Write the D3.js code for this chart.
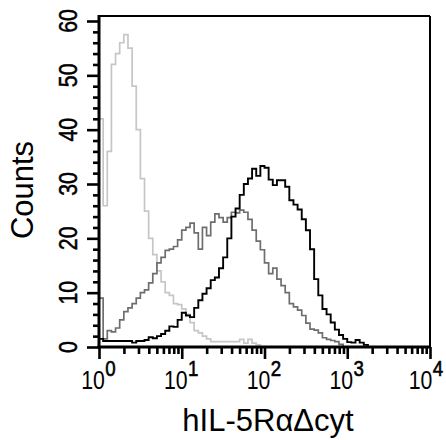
<!DOCTYPE html>
<html>
<head>
<meta charset="utf-8">
<script src="https://cdn.jsdelivr.net/npm/d3@7"></script>
<style>
  html, body { margin: 0; padding: 0; background: #ffffff; }
  svg { display: block; }
  text { font-family: "Liberation Sans", Arial, Helvetica, sans-serif; fill: #000; }
</style>
</head>
<body>
<script>
// ---- Data (histogram bins: log10 of left edge of each channel bin) ----
const binLog = [0,0.05,0.1,0.15,0.2,0.25,0.3,0.35,0.4,0.45,0.5,0.55,0.6,0.65,0.7,0.75,0.8,0.85,0.9,0.95,
  1,1.05,1.1,1.15,1.2,1.25,1.3,1.35,1.4,1.45,1.5,1.55,1.6,1.65,1.7,1.75,1.8,1.85,1.9,1.95,
  2,2.05,2.1,2.15,2.2,2.25,2.3,2.35,2.4,2.45,2.5,2.55,2.6,2.65,2.7,2.75,2.8,2.85,2.9,2.95,
  3,3.05,3.1,3.15,3.2,3.25,3.3,3.35,3.4,3.45,3.5,3.55,3.6,3.65,3.7,3.75,3.8,3.85,3.9,3.95];
const binWidthLog = 0.05;

// light gray: control
const countsControl = [42,26,36,52,54,56,57.5,55,48,40,31,25,20,17,14,12,10,9.5,8,7.8,
  7,6,4.5,3,2.6,2,1.5,1,1,1,1,1,1,1,1.4,0.7,1.4,0.7,0.4,0,
  0,0,0,0,0,0,0,0,0,0,0,0,0,0,0,0,0,0,0,0,
  0,0,0,0,0,0,0,0,0,0,0,0,0,0,0,0,0,0,0,0];
// dark gray
const countsGray = [9,1.5,3,2.8,3.5,5,6.5,7.2,8,9,10,10.5,11.8,13.5,15.5,16.5,17.8,18,18.5,19.7,
  21.5,22,22.8,21,18,22,20.5,23,24.5,23.8,23,23.8,24.8,24.7,25.2,24.8,23.5,21.5,19.5,17.9,
  15.5,13.5,14.5,12.5,11.3,10,8,7.4,6.8,5.8,4.4,3.3,3.1,2.6,1.7,1.4,1.2,1,0.5,0,
  0,0,0,0,0,0,0,0,0,0,0,0,0,0,0,0,0,0,0,0];
// black: hIL-5RαΔcyt
const countsBlack = [1.5,1.1,1.1,1.1,1.1,1.1,1.1,1.1,0.8,1.1,1.1,1.3,1.8,1.6,2,2.4,3,3.8,3.7,5,
  6.3,5.8,5.5,7.2,8.6,9.8,10.8,12.3,12.8,14.5,16.5,20,24,25.5,28,30,31,32.8,31.5,33.3,
  33,30.8,29.8,30.7,30.7,29.5,27,26.2,25.3,23.5,21.5,18,12.5,9.5,7,6,4.5,3.2,2.2,1.5,
  0.9,0.8,1.3,0.8,0.4,0,0,0,0,0,0,0,0,0,0,0,0,0,0,0];

const yMajorTicks = [0,10,20,30,40,50,60];
const yTickLabels = ["0","10","20","30","40","50","60"];
const xDecadeExponents = [0,1,2,3,4];
const xTickBase = "10";
const xTitle = "hIL-5R\u03B1\u0394cyt";
const yTitle = "Counts";

// ---- Layout ----
const W = 446, H = 440;
const svg = d3.select("body").append("svg").attr("width", W).attr("height", H);
svg.append("rect").attr("width", W).attr("height", H).attr("fill", "#fff");

const x = d3.scaleLog().domain([1, 1e4]).range([99, 430]);
const y = d3.scaleLinear().domain([0, 60]).range([347, 21]);
const frameTop = 16;

function series(counts) {
  const pts = binLog.map((l, i) => [Math.pow(10, l), counts[i]]);
  const last = binLog[binLog.length - 1] + binWidthLog;
  pts.push([Math.pow(10, last), counts[counts.length - 1]]);
  return pts;
}
const line = d3.line().x(d => x(d[0])).y(d => y(d[1])).curve(d3.curveStepAfter);

const plot = svg.append("g");
plot.append("path").datum(series(countsControl)).attr("d", line)
  .attr("fill", "none").attr("stroke", "#c6c6c6").attr("stroke-width", 1.7);
plot.append("path").datum(series(countsGray)).attr("d", line)
  .attr("fill", "none").attr("stroke", "#6e6e6e").attr("stroke-width", 1.7);
plot.append("path").datum(series(countsBlack)).attr("d", line)
  .attr("fill", "none").attr("stroke", "#000").attr("stroke-width", 1.9);

// ---- Frame ----
svg.append("line").attr("x1", x(1)).attr("x2", x(1e4)).attr("y1", frameTop).attr("y2", frameTop)
  .attr("stroke", "#000").attr("stroke-width", 2);
svg.append("line").attr("x1", x(1e4)).attr("x2", x(1e4)).attr("y1", frameTop).attr("y2", y(0))
  .attr("stroke", "#000").attr("stroke-width", 2);

// ---- Y axis ----
const yMinor = d3.range(0, 61, 2).filter(v => v % 10 !== 0);
const gyMinor = svg.append("g").attr("transform", `translate(${x(1)},0)`)
  .call(d3.axisLeft(y).tickValues(yMinor).tickSize(6).tickFormat(""));
const gyMajor = svg.append("g").attr("transform", `translate(${x(1)},0)`)
  .call(d3.axisLeft(y).tickValues(yMajorTicks).tickSize(12).tickFormat(""));
[gyMinor, gyMajor].forEach(g => {
  g.select(".domain").remove();
  g.selectAll("line").attr("stroke", "#000").attr("stroke-width", 2.6);
});
svg.append("line").attr("x1", x(1)).attr("x2", x(1)).attr("y1", frameTop - 1).attr("y2", y(0) + 1.5)
  .attr("stroke", "#000").attr("stroke-width", 3);

yMajorTicks.forEach((v, i) => {
  svg.append("text")
    .attr("transform", `translate(77,${y(v)}) rotate(-90) scale(0.85,1)`)
    .attr("text-anchor", "middle")
    .attr("font-size", 25)
    .attr("stroke", "#000").attr("stroke-width", 0.5)
    .text(yTickLabels[i]);
});

// ---- X axis ----
const xMinor = [];
[1, 10, 100, 1000].forEach(d => { for (let k = 2; k <= 9; k++) xMinor.push(d * k); });
const gxMinor = svg.append("g").attr("transform", `translate(0,${y(0)})`)
  .call(d3.axisBottom(x).tickValues(xMinor).tickSize(7).tickFormat(""));
const gxMajor = svg.append("g").attr("transform", `translate(0,${y(0)})`)
  .call(d3.axisBottom(x).tickValues(xDecadeExponents.map(e => Math.pow(10, e))).tickSize(12).tickFormat(""));
[gxMinor, gxMajor].forEach(g => {
  g.select(".domain").remove();
  g.selectAll("line").attr("stroke", "#000").attr("stroke-width", 2.6);
});
svg.append("line").attr("x1", x(1) - 1.5).attr("x2", x(1e4) + 1).attr("y1", y(0)).attr("y2", y(0))
  .attr("stroke", "#000").attr("stroke-width", 3);

xDecadeExponents.forEach(e => {
  const shift = e === 4 ? -4 : -0.5;
  const t = svg.append("text")
    .attr("transform", `translate(${x(Math.pow(10, e)) + shift},389) scale(0.85,1)`)
    .attr("text-anchor", "middle")
    .attr("font-size", 25);
  t.append("tspan").text(xTickBase);
  t.append("tspan").attr("font-size", 22).attr("dx", 0.5).attr("dy", -13)
    .attr("stroke", "#000").attr("stroke-width", 0.6).text(String(e));
});

// ---- Titles ----
svg.append("text").attr("x", 268).attr("y", 431).attr("text-anchor", "middle")
  .attr("font-size", 31).text(xTitle);
svg.append("text").attr("transform", "translate(33,190) rotate(-90)")
  .attr("text-anchor", "middle").attr("font-size", 31).text(yTitle);
</script>
</body>
</html>
